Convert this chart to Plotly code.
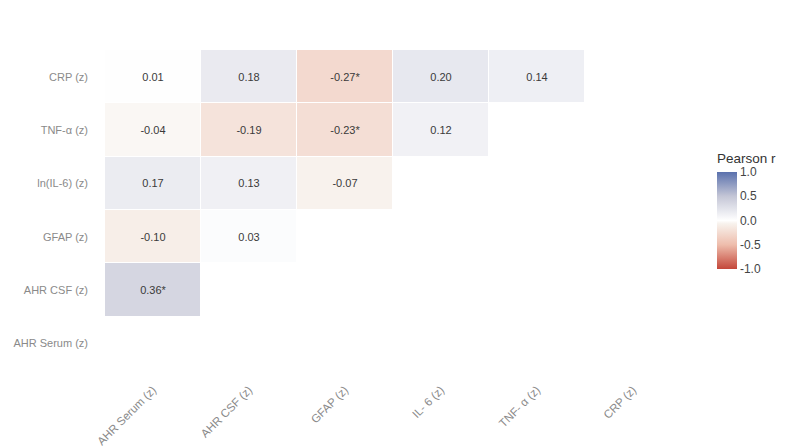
import plotly.graph_objects as go

x_labels = ["AHR Serum (z)", "AHR CSF (z)", "GFAP (z)", "IL- 6 (z)", "TNF- α (z)", "CRP (z)"]
y_labels = ["CRP (z)", "TNF-α (z)", "ln(IL-6) (z)", "GFAP (z)", "AHR CSF (z)", "AHR Serum (z)"]

# correlation values (rows top->bottom, columns left->right); None = blank
r_crp = [0.01, 0.18, -0.27, 0.20, 0.14, None]
r_tnf = [-0.04, -0.19, -0.23, 0.12, None, None]
r_il6 = [0.17, 0.13, -0.07, None, None, None]
r_gfap = [-0.10, 0.03, None, None, None, None]
r_csf = [0.36, None, None, None, None, None]
r_serum = [None, None, None, None, None, None]

sig_crp = [False, False, True, False, False, False]
sig_tnf = [False, False, True, False, False, False]
sig_il6 = [False] * 6
sig_gfap = [False] * 6
sig_csf = [True, False, False, False, False, False]
sig_serum = [False] * 6

z = [r_crp, r_tnf, r_il6, r_gfap, r_csf, r_serum]
sig = [sig_crp, sig_tnf, sig_il6, sig_gfap, sig_csf, sig_serum]
text = [["" if v is None else f"{v:.2f}" + ("*" if s else "") for v, s in zip(row, srow)]
        for row, srow in zip(z, sig)]

colorscale = [
    [0.0, "#c4473a"],
    [0.25, "#eebdac"],
    [0.47, "#f8f3ee"],
    [0.5, "#ffffff"],
    [0.75, "#c4c6d6"],
    [1.0, "#5a71ad"],
]

fig = go.Figure(go.Heatmap(
    z=z, x=x_labels, y=y_labels, text=text, texttemplate="%{text}",
    textfont=dict(size=11, color="#3a3a3a", family="Liberation Sans, Arial"),
    colorscale=colorscale, zmin=-1, zmax=1, xgap=1, ygap=1,
    hoverongaps=False,
    colorbar=dict(
        tickvals=[-1, -0.5, 0, 0.5, 1], ticktext=["-1.0", "-0.5", "0.0", "0.5", "1.0"],
        tickfont=dict(size=12, color="#444444"),
        thickness=20, len=97, lenmode="pixels", x=1.0625, xanchor="left",
        y=(370 - 269) / 320, yanchor="bottom", outlinewidth=0, ticks="",
        xpad=0, ypad=0,
    ),
))

fig.add_annotation(
    text="Pearson r", xref="paper", yref="paper",
    x=(715 - 105) / 576, y=(370 - 158) / 320, xanchor="left", yanchor="middle",
    showarrow=False, font=dict(size=13.5, color="#333333", family="Liberation Sans, Arial"),
)

fig.update_layout(
    width=794, height=448,
    margin=dict(l=105, r=113, t=50, b=78),
    paper_bgcolor="white", plot_bgcolor="white",
    font=dict(family="Liberation Sans, Arial", color="#8a8a8a", size=11),
    xaxis=dict(showgrid=False, zeroline=False, tickangle=-45, ticks="",
               tickfont=dict(size=11.5, color="#8a8a8a"), ticklabelstandoff=10,
               automargin=False),
    yaxis=dict(showgrid=False, zeroline=False, autorange="reversed", ticks="",
               tickfont=dict(size=11, color="#8a8a8a"), ticklabelstandoff=16,
               automargin=False),
)

fig.write_html("out.html")
